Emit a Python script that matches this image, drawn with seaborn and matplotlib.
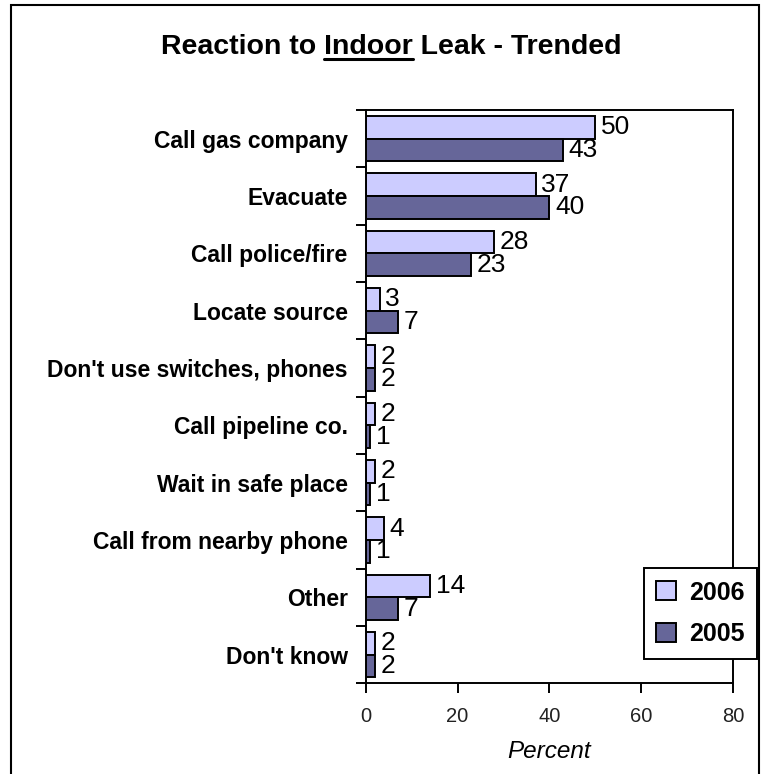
import pandas as pd
import matplotlib.pyplot as plt
import matplotlib.patches as mpatches
import matplotlib.lines as mlines
import seaborn as sns

# Data
categories = ["Call gas company", "Evacuate", "Call police/fire", "Locate source",
              "Don't use switches, phones", "Call pipeline co.", "Wait in safe place",
              "Call from nearby phone", "Other", "Don't know"]
pct_2006 = [50, 37, 28, 3, 2, 2, 2, 4, 14, 2]
pct_2005 = [43, 40, 23, 7, 2, 1, 1, 1, 7, 2]
years = ["2006", "2005"]
x_ticks = [0, 20, 40, 60, 80]

df = pd.DataFrame({
    "Reaction": categories * 2,
    "Percent": pct_2006 + pct_2005,
    "Year": ["2006"] * len(categories) + ["2005"] * len(categories),
})

sns.set_style("white")
plt.rcParams["font.family"] = ["Liberation Sans", "DejaVu Sans"]
plt.rcParams["text.color"] = "black"
plt.rcParams["axes.labelcolor"] = "black"
plt.rcParams["xtick.color"] = "black"
plt.rcParams["ytick.color"] = "black"

fig = plt.figure(figsize=(7.62, 7.74), dpi=100)
ax = fig.add_axes([0.480, 0.117, 0.482, 0.741])

sns.barplot(data=df, x="Percent", y="Reaction", hue="Year", hue_order=years,
            order=categories, palette={"2006": "#CCCCFF", "2005": "#666699"},
            edgecolor="black", linewidth=1.4, width=0.79, saturation=1,
            ax=ax, legend=True)

for cont in ax.containers:
    ax.bar_label(cont, padding=4, fontsize=19)

ax.set_xlim(0, 80)
ax.set_xticks(x_ticks)
ax.tick_params(axis="x", direction="out", length=7, width=1.4, labelsize=14.5, pad=10,
               bottom=True, labelcolor="#222222")

# y ticks at group boundaries, labels at group centres
n = len(categories)
ax.set_yticks([i - 0.5 for i in range(n + 1)])
ax.set_yticklabels([])
ax.set_yticks(range(n), minor=True)
ax.set_yticklabels(categories, minor=True, fontsize=16.5, fontweight="bold")
ax.tick_params(axis="y", which="major", direction="out", length=7, width=1.4, left=True)
ax.tick_params(axis="y", which="minor", length=0, pad=13)
ax.set_ylim(n - 0.5, -0.5)

for s in ax.spines.values():
    s.set_visible(True)
    s.set_color("black")
    s.set_linewidth(1.4)

ax.set_ylabel("")
ax.set_xlabel("Percent", fontsize=17.5, fontstyle="italic", labelpad=10)

handles, labels = ax.get_legend_handles_labels()
leg = ax.legend(handles, labels, loc="upper left", bbox_to_anchor=(0.845, 0.266),
                bbox_transform=fig.transFigure, borderaxespad=0,
                prop={"weight": "bold", "size": 18},
                frameon=True, fancybox=False, edgecolor="black", framealpha=1,
                handlelength=0.8, handleheight=0.8, handletextpad=0.5,
                labelspacing=0.7, borderpad=0.5)
leg.get_frame().set_linewidth(1.4)

# title with underlined word
title = "Reaction to Indoor Leak - Trended"
tkw = dict(fontsize=20.5, fontweight="bold")
t = fig.text(391 / 762, 1 - 47 / 774, title, ha="center", va="center", **tkw)
r = fig.canvas.get_renderer()
full = t.get_window_extent(r)
pre = fig.text(0, 0, "Reaction to ", **tkw)
word = fig.text(0, 0, "Reaction to Indoor", **tkw)
x0 = full.x0 + pre.get_window_extent(r).width
x1 = full.x0 + word.get_window_extent(r).width
pre.remove()
word.remove()
y_line = full.y0 + 1
fig.add_artist(mlines.Line2D([x0 / fig.bbox.width, x1 / fig.bbox.width],
                             [y_line / fig.bbox.height] * 2,
                             transform=fig.transFigure, color="black", linewidth=2.2))

# outer frame
fig.patches.append(mpatches.Rectangle((11 / 762, -0.01), 748 / 762, 1 - 5 / 774 + 0.01,
                                      transform=fig.transFigure, fill=False,
                                      edgecolor="black", linewidth=1.5))

plt.savefig("out.png", dpi=100)
